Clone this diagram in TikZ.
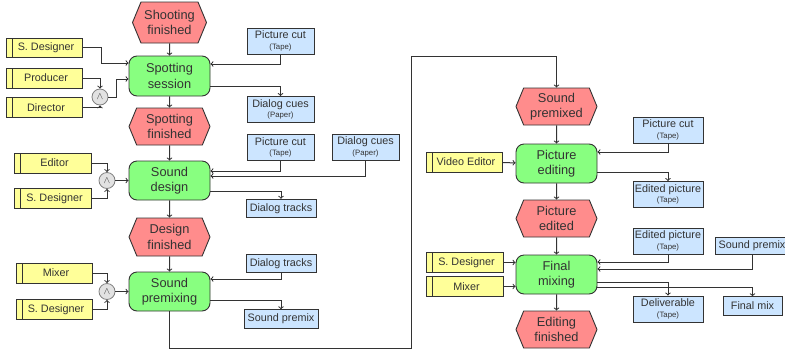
\documentclass[tikz,border=0pt]{standalone}
\usepackage{fontspec}
\setmainfont{Liberation Sans}
\usetikzlibrary{positioning,calc,shapes.symbols,shapes.geometric}

\definecolor{evtred}{RGB}{255,140,140}
\definecolor{funcgreen}{RGB}{136,255,128}
\definecolor{roleyellow}{RGB}{255,255,153}
\definecolor{docblue}{RGB}{204,229,255}
\definecolor{andgray}{RGB}{226,226,226}
\definecolor{linegray}{RGB}{51,51,51}

\newcommand{\doclabel}[2]{#1\\[-1pt]{\fontsize{7.8}{8}\selectfont (#2)}}

\begin{document}
\begin{tikzpicture}[x=1pt, y=-1pt,
    every node/.style={text=linegray},
    event/.style={draw=linegray, fill=evtred, line width=0.9pt,
        signal, signal to=west and east, signal pointer angle=135,
        align=center, font=\fontsize{12.8}{15.5}\selectfont,
        minimum width=81pt, minimum height=37pt, inner sep=1pt},
    func/.style={draw=linegray, fill=funcgreen, line width=0.9pt, rounded corners=8pt,
        align=center, font=\fontsize{12.8}{15.5}\selectfont,
        minimum width=81pt, minimum height=39pt, inner sep=1pt},
    role/.style={draw=linegray, fill=roleyellow, line width=0.9pt,
        minimum width=76pt, minimum height=20pt, inner sep=1pt,
        font=\fontsize{10.8}{12}\selectfont,
        execute at begin node=\hspace*{4pt},
        path picture={\draw[linegray, line width=0.9pt]
            ([xshift=6pt]path picture bounding box.north west) --
            ([xshift=6pt]path picture bounding box.south west);}},
    doc/.style={draw=linegray, fill=docblue, line width=0.9pt, align=center,
        font=\fontsize{10.8}{11.5}\selectfont,
        minimum width=67pt, minimum height=18.5pt, inner sep=2pt},
    docpair/.style={doc, minimum height=26pt},
    andop/.style={circle, draw=gray, fill=andgray, line width=0.8pt,
        minimum size=16pt, inner sep=0pt},
    flow/.style={->, draw=linegray, line width=1pt}]

    \useasboundingbox (0,0) rectangle (785,349);

    % left column
    \node[event, minimum width=74pt, minimum height=41pt] (shoot) at (169.5,22.5) {Shooting\\finished};
    \node[func, minimum height=40pt] (spot) at (169.5,76) {Spotting\\session};
    \node[event] (spotfin) at (169.5,126.5) {Spotting\\finished};
    \node[func] (sdesign) at (169.5,180.5) {Sound\\design};
    \node[event, minimum height=38pt] (desfin) at (169.5,237) {Design\\finished};
    \node[func] (premixing) at (169.5,291.5) {Sound\\premixing};

    % right column
    \node[event] (spremixed) at (556.5,106.5) {Sound\\premixed};
    \node[func] (picedit) at (556.5,163.5) {Picture\\editing};
    \node[event] (picedited) at (556.5,218.5) {Picture\\edited};
    \node[func] (finmix) at (556.5,274.5) {Final\\mixing};
    \node[event] (editfin) at (556.5,329.5) {Editing\\finished};

    % roles
    \node[role, minimum height=19pt] (sdes1) at (44,47.5) {S. Designer};
    \node[role] (producer) at (44,78) {Producer};
    \node[role, below=9pt of producer] (director) {Director};
    \node[role, minimum width=77pt] (editor) at (52.5,163) {Editor};
    \node[role, minimum width=77pt, below=15pt of editor] (sdes2) {S. Designer};
    \node[role] (mixer1) at (54,273) {Mixer};
    \node[role, below=16pt of mixer1] (sdes3) {S. Designer};
    \node[role] (videditor) at (464,162) {Video Editor};
    \node[role, minimum width=77pt] (sdes4) at (464.5,262.5) {S. Designer};
    \node[role, minimum width=77pt, below=3pt of sdes4] (mixer2) {Mixer};

    % and operators
    \node[andop] (and1) at (100,97) {$\wedge$};
    \node[andop] (and2) at (107,180.5) {$\wedge$};
    \node[andop] (and3) at (107,291.5) {$\wedge$};

    % documents
    \node[docpair] (cut1) at (280.5,41) {\doclabel{Picture cut}{Tape}};
    \node[docpair] (cues1) at (280.5,109.5) {\doclabel{Dialog cues}{Paper}};
    \node[docpair] (cut2) at (280.5,147.5) {\doclabel{Picture cut}{Tape}};
    \node[docpair] (cues2) at (365.5,147) {\doclabel{Dialog cues}{Paper}};
    \node[doc, minimum width=70pt] (tracks1) at (281,208.5) {Dialog tracks};
    \node[doc, minimum width=70pt] (tracks2) at (281,263.5) {Dialog tracks};
    \node[doc, minimum width=74pt] (premix1) at (281,319) {Sound premix};
    \node[docpair, minimum width=70pt] (cut3) at (668,130) {\doclabel{Picture cut}{Tape}};
    \node[docpair, minimum width=70pt] (edpic1) at (668,194.5) {\doclabel{Edited picture}{Tape}};
    \node[docpair, minimum width=70pt] (edpic2) at (668,241) {\doclabel{Edited picture}{Tape}};
    \node[doc, minimum width=74pt, minimum height=17pt] (premix2) at (752,245.5) {Sound premix};
    \node[docpair, minimum width=70pt] (deliv) at (668,309) {\doclabel{Deliverable}{Tape}};
    \node[doc, minimum width=59pt] (finalmix) at (752.5,306) {Final mix};

    \coordinate (turnlow) at (411,348);
    \coordinate (turnhigh) at (411,56);

    % control flow
    \path[flow]
    (shoot) edge (spot)
    (spot) edge (spotfin)
    (spotfin) edge (sdesign)
    (sdesign) edge (desfin)
    (desfin) edge (premixing)
    (spremixed) edge (picedit)
    (picedit) edge (picedited)
    (picedited) edge (finmix)
    (finmix) edge (editfin)
    (and2) edge (sdesign)
    (and3) edge (premixing)
    (videditor) edge (picedit)
    (sdes4) edge (sdes4 -| finmix.west)
    (mixer2) edge (mixer2 -| finmix.west);
    \draw[flow] (premixing) |- (turnlow) -- (turnhigh) -| (spremixed);

    % roles to functions
    \draw[flow] (sdes1) -| ([xshift=-27pt,yshift=13pt]spot.west) -- ([yshift=13pt]spot.west);
    \draw[flow] (and1) -| ([xshift=-12pt,yshift=-3pt]spot.west) -- ([yshift=-3pt]spot.west);
    \draw[flow] (producer) -| (and1);
    \draw[flow] (director) -| (and1);
    \draw[flow] (editor) -| (and2);
    \draw[flow] (sdes2) -| (and2);
    \draw[flow] (mixer1) -| (and3);
    \draw[flow] (sdes3) -| (and3);

    % documents in and out
    \draw[flow] (cut1) |- ([yshift=12pt]spot.east);
    \draw[flow] ([yshift=-10pt]spot.east) -| (cues1);
    \draw[flow] (cut2) |- ([yshift=9.5pt]sdesign.east);
    \draw[flow] (cues2) |- ([yshift=4.5pt]sdesign.east);
    \draw[flow] ([yshift=-10.5pt]sdesign.east) -| (tracks1);
    \draw[flow] (tracks2) |- ([yshift=12.5pt]premixing.east);
    \draw[flow] ([yshift=-8.5pt]premixing.east) -| (premix1);
    \draw[flow] (cut3) |- ([yshift=11.5pt]picedit.east);
    \draw[flow] ([yshift=-8.5pt]picedit.east) -| (edpic1);
    \draw[flow] (edpic2) |- ([yshift=12.5pt]finmix.east);
    \draw[flow] (premix2) |- ([yshift=5.5pt]finmix.east);
    \draw[flow] ([yshift=-7.5pt]finmix.east) -| (deliv);
    \draw[flow] ([yshift=-12.5pt]finmix.east) -| (finalmix);
\end{tikzpicture}
\end{document}
